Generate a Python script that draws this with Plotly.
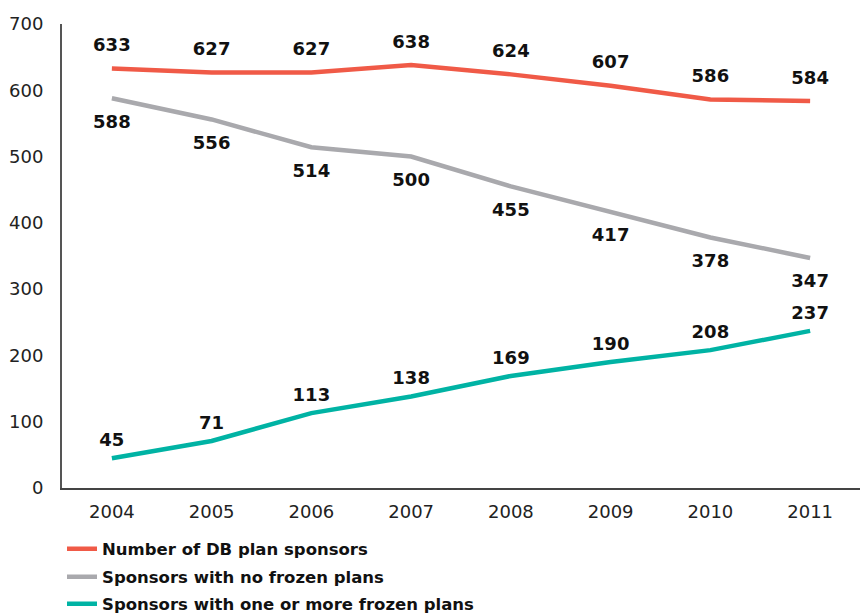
import plotly.graph_objects as go

years = ["2004", "2005", "2006", "2007", "2008", "2009", "2010", "2011"]
total_sponsors = [633, 627, 627, 638, 624, 607, 586, 584]
no_frozen = [588, 556, 514, 500, 455, 417, 378, 347]
with_frozen = [45, 71, 113, 138, 169, 190, 208, 237]

series = [
    ("Number of DB plan sponsors", total_sponsors, "#F05A47", "top center", 19, "legend"),
    ("Sponsors with no frozen plans", no_frozen, "#A9A9AD", "bottom center", 24, "legend2"),
    ("Sponsors with one or more frozen plans", with_frozen, "#00B3A4", "top center", 11, "legend3"),
]

fig = go.Figure()
for name, vals, color, pos, msize, leg in series:
    fig.add_trace(go.Scatter(x=years, y=vals, mode="lines", name=name, legend=leg,
                             line=dict(color=color, width=4.5)))
    fig.add_trace(go.Scatter(x=years, y=vals, mode="markers+text", showlegend=False,
                             text=[str(v) for v in vals], textposition=pos,
                             marker=dict(size=msize, color="rgba(0,0,0,0)"),
                             textfont=dict(family="DejaVu Sans", size=18, color="#111111", weight="bold"),
                             hoverinfo="skip"))

legfont = dict(family="DejaVu Sans", size=16.5, color="#111111", weight="bold")
fig.update_layout(
    width=863, height=615,
    margin=dict(l=62, r=3, t=24, b=127, autoexpand=False),
    plot_bgcolor="white", paper_bgcolor="white",
    font=dict(family="DejaVu Sans", size=18, color="#222222"),
    showlegend=True,
    legend=dict(x=0.0, xanchor="left", y=-0.1315, yanchor="middle", font=legfont, bgcolor="rgba(0,0,0,0)"),
    legend2=dict(x=0.0, xanchor="left", y=-0.192, yanchor="middle", font=legfont, bgcolor="rgba(0,0,0,0)"),
    legend3=dict(x=0.0, xanchor="left", y=-0.25, yanchor="middle", font=legfont, bgcolor="rgba(0,0,0,0)"),
    xaxis=dict(type="category", range=[-0.5, 7.5], showgrid=False,
               showline=True, linecolor="#444444", linewidth=2, ticks="",
               ticklabelstandoff=6,
               tickfont=dict(size=18, color="#222222")),
    yaxis=dict(range=[0, 700], dtick=100, showgrid=False, zeroline=False,
               showline=True, linecolor="#555555", linewidth=2, ticks="",
               ticklabelstandoff=13,
               tickfont=dict(size=18, color="#222222")),
)

fig.write_html("out.html")
